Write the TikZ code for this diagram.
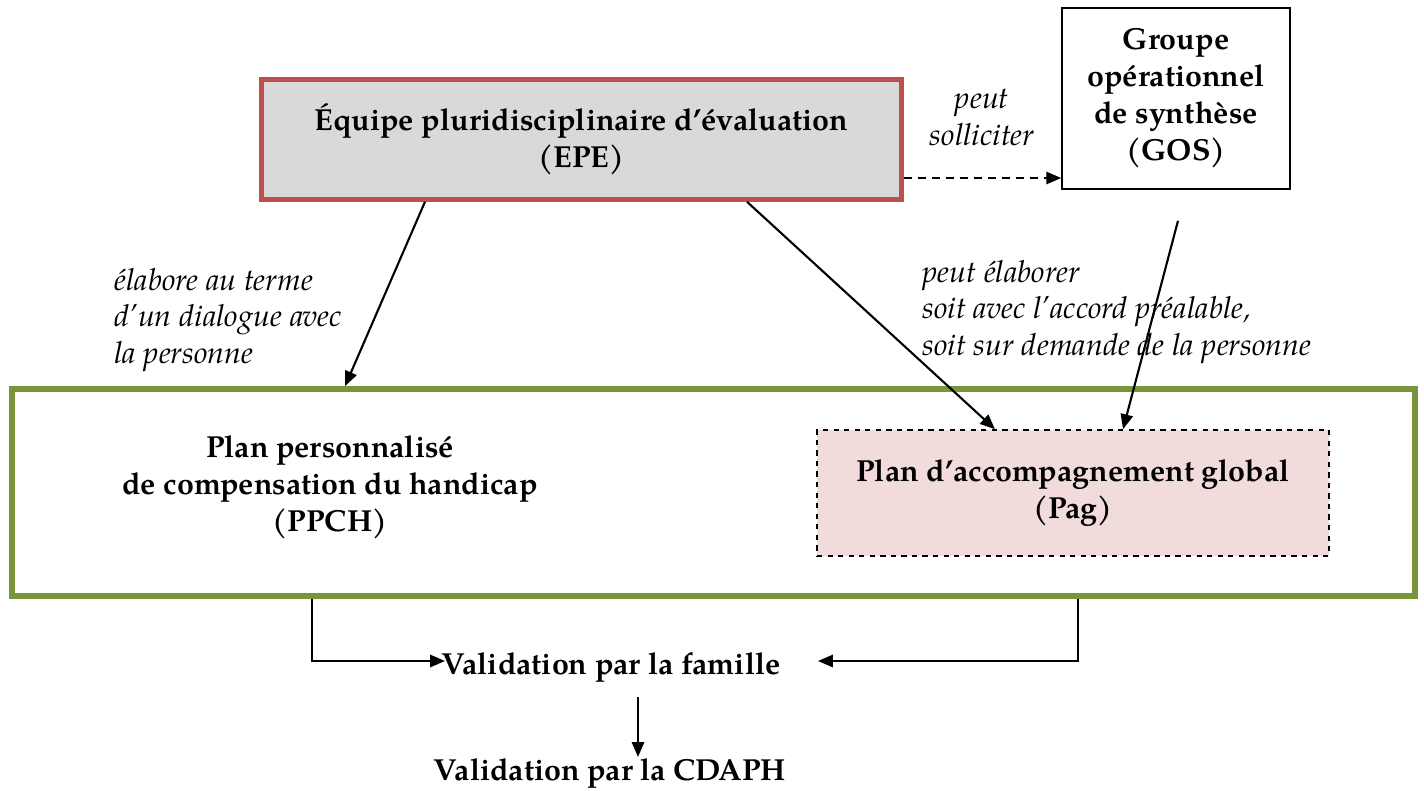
\documentclass[tikz,border=0pt]{standalone}
\usepackage{fontspec}
\setmainfont{TeX Gyre Pagella}
\usepackage{tikz}
\usetikzlibrary{
  arrows.meta,
  positioning,
  calc
}
\usepackage{xcolor}
\definecolor{darkRed}{rgb}{0.75,0.31,0.30}
\definecolor{lightGray}{rgb}{0.85,0.85,0.85}
\definecolor{oliveGreen}{rgb}{0.47,0.58,0.24}
\definecolor{palePink}{rgb}{0.95,0.86,0.86}
\tikzset{
  box/.style={
    draw,
    inner sep=0pt,
    align=center,
    font=\bfseries\fontsize{17.3}{21}\selectfont
  },
  note/.style={
    inner sep=0pt,
    font=\itshape\fontsize{17.3}{21}\selectfont
  },
  arr/.style={->, line width=1.2pt}
}

\begin{document}
\begin{tikzpicture}[
      x=0.02cm, y=-0.02cm,
      >={Triangle[length=8.5pt,width=7pt]}
      ]
      \useasboundingbox (0,0) rectangle (1424,791);

      % boxes
      \node[draw=oliveGreen, line width=3.2pt, inner sep=0pt,
        minimum width=28.06cm, minimum height=4.14cm] (plan) at (713.5,492.5) {};
      \node[box, draw=darkRed, fill=lightGray, line width=2.6pt,
        minimum width=12.8cm, minimum height=2.4cm] (epe) at (581.5,139.5)
        {Équipe pluridisciplinaire d’évaluation\\(EPE)};
      \node[box, line width=0.9pt, minimum width=4.56cm, minimum height=3.62cm]
        (gos) at (1176,98.5) {Groupe\\opérationnel\\de synthèse\\(GOS)};
      \node[box, dashed, fill=palePink, line width=0.9pt,
        minimum width=10.24cm, minimum height=2.52cm] (pag) at (1073,493)
        {Plan d’accompagnement global\\(Pag)};
      \node[box, draw=none] (ppch) at (330,487)
        {Plan personnalisé\\de compensation du handicap\\(PPCH)};
      \node[box, draw=none] (famille) at (611,667) {Validation par la famille};
      \node[box, draw=none] (cdaph) at (610,773) {Validation par la CDAPH};

      % labels
      \node[note, align=center] (solliciter) at (982,117) {peut\\solliciter};
      \node[note, align=left, anchor=west] (dialogue) at (114,320)
        {élabore au terme\\d’un dialogue avec\\la personne};
      \node[note, align=left, anchor=west] (accord) at (922,312)
        {peut élaborer\\soit avec l’accord préalable,\\soit sur demande de la personne};

      % connectors
      \draw[arr, dash pattern=on 4.5pt off 3.5pt] ($(epe.east)+(0,38.5)$) coordinate (s)
        -- (s -| gos.west);
      \draw[arr] ($(epe.south)+(-156.5,0)$) -- ($(plan.north)+(-368.5,0)$);
      \draw[arr] ($(epe.south)+(165.5,0)$) -- ($(pag.north)+(-78,0)$);
      \draw[arr] ($(gos.south)+(2,31)$) -- ($(pag.north)+(50,0)$);
      \draw[arr] ($(plan.south)+(-401.5,0)$) |- ($(famille.center)+(-166,-6)$);
      \draw[arr] ($(plan.south)+(364.5,0)$) |- ($(famille.center)+(207,-6)$);
      \draw[arr] ($(famille.center)+(27,30)$) -- ($(cdaph.center)+(28,-16)$);
    \end{tikzpicture}
\end{document}
